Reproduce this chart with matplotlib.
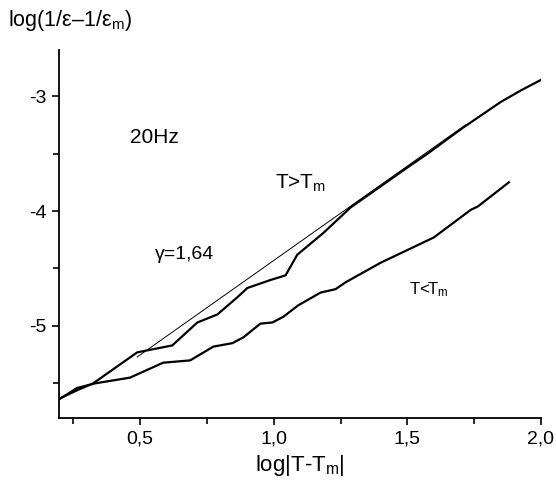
import matplotlib
matplotlib.use("Agg")
import matplotlib.pyplot as plt
from matplotlib.ticker import MultipleLocator, FuncFormatter

plt.rcParams['font.family'] = ['Liberation Sans', 'DejaVu Sans']
plt.rcParams['mathtext.fontset'] = 'custom'
plt.rcParams['mathtext.rm'] = 'Liberation Sans'
plt.rcParams['mathtext.it'] = 'Liberation Sans'

# T > Tm branch
x_above = [0.200, 0.264, 0.324, 0.489, 0.620, 0.714, 0.789, 0.864, 0.901, 0.988,
           1.044, 1.088, 1.186, 1.287, 1.501, 1.576, 1.711, 1.850, 1.925, 2.007]
y_above = [-5.63, -5.56, -5.50, -5.23, -5.17, -4.97, -4.90, -4.75, -4.67, -4.60,
           -4.56, -4.38, -4.19, -3.97, -3.62, -3.50, -3.27, -3.05, -2.95, -2.85]

# T < Tm branch
x_below = [0.196, 0.264, 0.331, 0.462, 0.586, 0.687, 0.774, 0.845, 0.886, 0.950,
           0.995, 1.036, 1.092, 1.175, 1.231, 1.269, 1.400, 1.599, 1.737, 1.764, 1.880]
y_below = [-5.64, -5.54, -5.50, -5.45, -5.32, -5.30, -5.18, -5.15, -5.10, -4.98,
           -4.97, -4.92, -4.82, -4.71, -4.68, -4.62, -4.45, -4.23, -3.99, -3.96, -3.75]

# power-law fit, gamma = 1.64
x_fit = [0.489, 1.718]
y_fit = [-5.27, -3.25]

fig = plt.figure(figsize=(5.56, 4.87), dpi=100)
ax = fig.add_axes([0.106, 0.142, 0.867, 0.755])

ax.plot(x_above, y_above, color='black', lw=1.6)
ax.plot(x_below, y_below, color='black', lw=1.6)
ax.plot(x_fit, y_fit, color='black', lw=0.7)

ax.set_xlim(0.196, 2.0)
ax.set_ylim(-5.8, -2.6)

for s in ['top', 'right']:
    ax.spines[s].set_visible(False)
for s in ['left', 'bottom']:
    ax.spines[s].set_linewidth(1.3)

ax.xaxis.set_major_locator(MultipleLocator(0.5))
ax.xaxis.set_minor_locator(MultipleLocator(0.25))
ax.yaxis.set_major_locator(MultipleLocator(1))
ax.yaxis.set_minor_locator(MultipleLocator(0.5))
ax.xaxis.set_major_formatter(FuncFormatter(lambda v, p: f"{v:.1f}".replace('.', ',')))
ax.yaxis.set_major_formatter(FuncFormatter(lambda v, p: f"{v:.0f}".replace('\u2212', '-')))
ax.tick_params(which='major', direction='out', length=5, width=1.2, labelsize=14, pad=4)
ax.tick_params(which='minor', direction='out', length=4, width=1.2)

ax.set_xlabel(r"log|T-T$_{\mathrm{m}}$|", fontsize=16, labelpad=4)
fig.text(0.014, 0.958, "log(1/ε\u20131/ε$_{\\mathrm{m}}$)", fontsize=15.5, va='center', ha='left')

ax.text(0.462, -3.36, "20Hz", fontsize=15, va='center', ha='left')
ax.text(1.006, -3.76, "T>T$_{\\mathrm{m}}$", fontsize=15, va='center', ha='left')
ax.text(0.556, -4.38, "γ=1,64", fontsize=14, va='center', ha='left')
ax.text(1.505, -4.68, "T<T$_{\\mathrm{m}}$", fontsize=12, va='center', ha='left')

fig.savefig("out.png", dpi=100)
